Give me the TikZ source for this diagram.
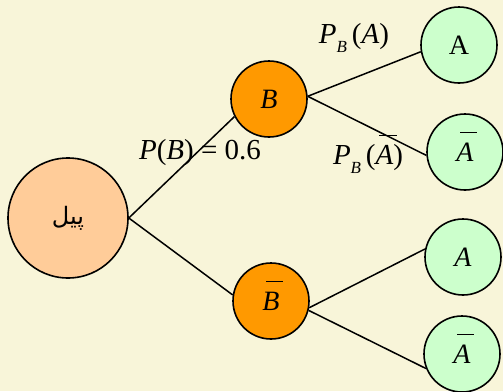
\documentclass[tikz,border=0pt]{standalone}
\usepackage{fontspec}
\setmainfont{Liberation Serif}
\newfontfamily\arabicfont[Script=Arabic]{DejaVu Sans}
\TeXXeTstate=1
\definecolor{bgcol}{RGB}{248,245,217}
\definecolor{peach}{RGB}{255,204,153}
\definecolor{orangec}{RGB}{255,153,0}
\definecolor{lgreen}{RGB}{204,255,204}
\newsavebox{\ovlbox}
\newcommand{\ovl}[1]{\sbox{\ovlbox}{\itshape #1}\smash{\rlap{\kern0.13em\raisebox{\dimexpr\ht\ovlbox+0.34em\relax}{\vrule width \wd\ovlbox height 1.2pt depth 0pt}}}\usebox{\ovlbox}}
\newcommand{\subB}{\raisebox{-0.28em}{\fontsize{17}{18}\selectfont\itshape B}}
\begin{document}
\begin{tikzpicture}[x=1pt,y=-1pt,
  every node/.style={font=\fontsize{28}{32}\selectfont},
  circ/.style={circle,draw=black,line width=1.6pt,inner sep=0pt},
  rootnode/.style={circ,fill=peach,minimum size=120pt},
  bnode/.style={circ,fill=orangec,minimum size=76pt},
  anode/.style={circ,fill=lgreen,minimum size=76pt},
  lbl/.style={inner sep=0pt,font=\fontsize{29}{32}\selectfont},
  edge/.style={line width=1.5pt,draw=black}]
\fill[bgcol] (0,0) rectangle (503,391);
\useasboundingbox (0,0) rectangle (503,391);
\node[rootnode] (root) at (68,218) {\fontsize{24}{28}\selectfont\arabicfont\beginR پیل\endR};
\node[bnode] (b) at (269,99) {\itshape B};
\node[bnode] (bb) at (271,301) {\ovl{B}};
\node[anode] (a1) at (459,45) {A};
\node[anode] (na1) at (465,152) {\ovl{A}};
\node[anode] (a2) at (463,257) {\itshape A};
\node[anode] (na2) at (462,354) {\ovl{A}};
\draw[edge] (root.east) -- (b.207);
\draw[edge] (root.east) -- (bb.171);
\draw[edge] (b.4) -- (a1.190);
\draw[edge] (b.4) -- (na1.185);
\draw[edge] (bb.-10) -- (a2.168);
\draw[edge] (bb.-14) -- (na2.202);
\node[lbl] (l1) at (200,153) {\textit{P}(\textit{B})\hspace{0.25em}=\hspace{0.25em}0.6};
\node[lbl] (l2) at (354,38) {\textit{P}\subB\,(\textit{A})};
\node[lbl] (l3) at (368,159) {\textit{P}\subB\,(\ovl{A})};
\end{tikzpicture}
\end{document}
